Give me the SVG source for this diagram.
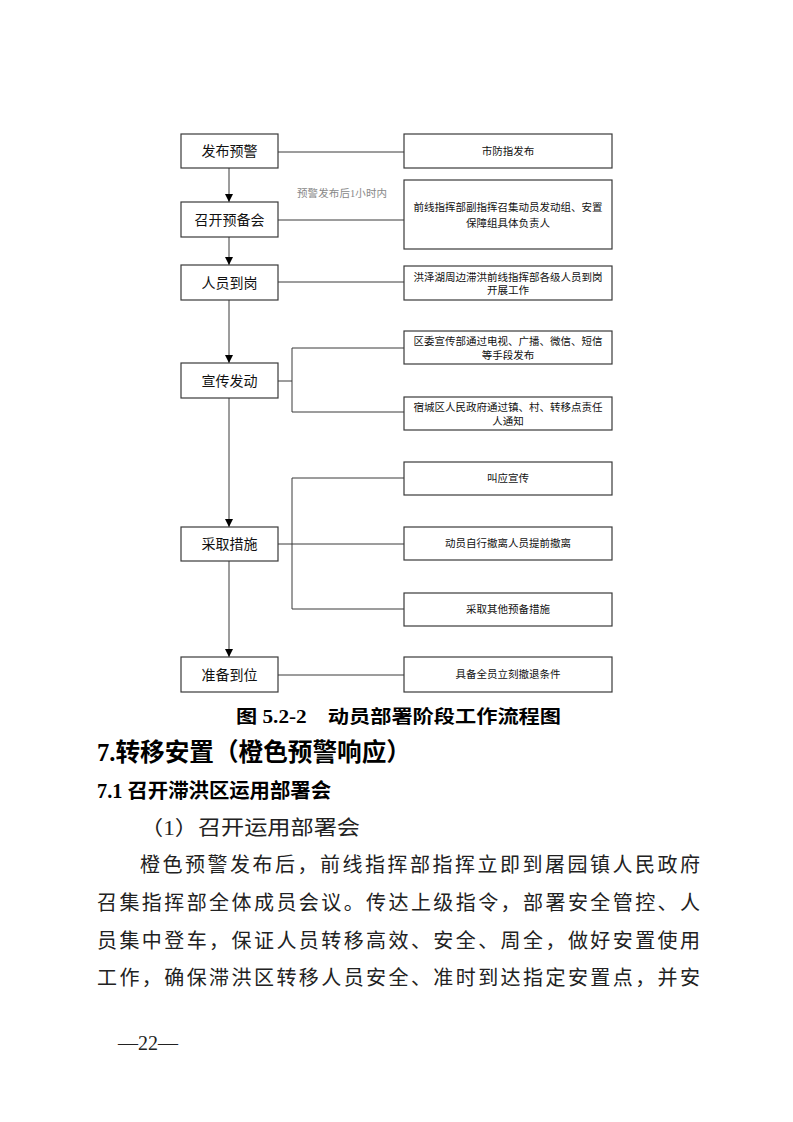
<svg xmlns="http://www.w3.org/2000/svg" width="793" height="1122" viewBox="0 0 793 1122">
<style>
.box{fill:#fff;stroke:#3a3a3a;stroke-width:1.2}
.ln{fill:none;stroke:#3a3a3a;stroke-width:1}
.lt{font-family:"Liberation Sans","Noto Sans CJK SC",sans-serif;font-size:14px;fill:#111;text-anchor:middle}
.rt{font-family:"Liberation Sans","Noto Sans CJK SC",sans-serif;font-size:10.5px;fill:#111;text-anchor:middle}
.note{font-family:"Liberation Serif","Noto Sans CJK SC",serif;font-size:10.5px;fill:#888}
.body{font-family:"Liberation Serif","Noto Sans CJK SC",serif;font-size:20px;fill:#222}
.hd{font-family:"Liberation Serif","Noto Sans CJK SC",serif;font-weight:bold;fill:#000}
</style>
<defs>
<marker id="arr" viewBox="0 0 10 10" refX="10" refY="5" markerWidth="8" markerHeight="8" markerUnits="userSpaceOnUse" orient="auto">
<path d="M0,0 L10,5 L0,10 z" fill="#000"/>
</marker>
</defs>
<rect width="793" height="1122" fill="#fff"/>

<g id="connectors">
<line class="ln" x1="229" y1="168" x2="229" y2="202" marker-end="url(#arr)"/>
<line class="ln" x1="229" y1="237" x2="229" y2="265" marker-end="url(#arr)"/>
<line class="ln" x1="229" y1="300" x2="229" y2="363" marker-end="url(#arr)"/>
<line class="ln" x1="229" y1="398" x2="229" y2="527" marker-end="url(#arr)"/>
<line class="ln" x1="229" y1="561" x2="229" y2="657" marker-end="url(#arr)"/>
<line class="ln" x1="278" y1="152" x2="404" y2="152"/>
<line class="ln" x1="278" y1="220" x2="404" y2="220"/>
<line class="ln" x1="278" y1="282" x2="404" y2="282"/>
<path class="ln" d="M278,381 H292 M404,348 H292 V412 H404"/>
<path class="ln" d="M278,544 H404 M404,478 H292 V609 H404"/>
<line class="ln" x1="278" y1="675" x2="404" y2="675"/>
<text class="note" x="297" y="197" textLength="90" lengthAdjust="spacing">预警发布后1小时内</text>
</g>

<g id="n1"><rect class="box" x="181" y="134" width="97" height="34"/><text class="lt" x="229.5" y="156">发布预警</text></g>
<g id="n2"><rect class="box" x="181" y="202" width="97" height="35"/><text class="lt" x="229.5" y="224.5">召开预备会</text></g>
<g id="n3"><rect class="box" x="181" y="265" width="97" height="35"/><text class="lt" x="229.5" y="287.5">人员到岗</text></g>
<g id="n4"><rect class="box" x="181" y="363" width="97" height="35"/><text class="lt" x="229.5" y="385.5">宣传发动</text></g>
<g id="n5"><rect class="box" x="181" y="527" width="97" height="34"/><text class="lt" x="229.5" y="549">采取措施</text></g>
<g id="n6"><rect class="box" x="181" y="657" width="97" height="35"/><text class="lt" x="229.5" y="679.5">准备到位</text></g>

<g id="r1"><rect class="box" x="404" y="134" width="208" height="34"/><text class="rt" x="508" y="155">市防指发布</text></g>
<g id="r2"><rect class="box" x="404" y="180" width="208" height="69"/><text class="rt" x="508" y="211">前线指挥部副指挥召集动员发动组、安置</text><text class="rt" x="508" y="227">保障组具体负责人</text></g>
<g id="r3"><rect class="box" x="404" y="266" width="208" height="34"/><text class="rt" x="508" y="281">洪泽湖周边滞洪前线指挥部各级人员到岗</text><text class="rt" x="508" y="294">开展工作</text></g>
<g id="r4"><rect class="box" x="404" y="331" width="208" height="33"/><text class="rt" x="508" y="345">区委宣传部通过电视、广播、微信、短信</text><text class="rt" x="508" y="359">等手段发布</text></g>
<g id="r5"><rect class="box" x="404" y="397" width="208" height="33"/><text class="rt" x="508" y="411">宿城区人民政府通过镇、村、转移点责任</text><text class="rt" x="508" y="425">人通知</text></g>
<g id="r6"><rect class="box" x="404" y="462" width="208" height="33"/><text class="rt" x="508" y="482">叫应宣传</text></g>
<g id="r7"><rect class="box" x="404" y="527" width="208" height="33"/><text class="rt" x="508" y="547">动员自行撤离人员提前撤离</text></g>
<g id="r8"><rect class="box" x="404" y="593" width="208" height="33"/><text class="rt" x="508" y="613">采取其他预备措施</text></g>
<g id="r9"><rect class="box" x="404" y="657" width="208" height="35"/><text class="rt" x="508" y="678">具备全员立刻撤退条件</text></g>

<text class="hd" x="236" y="723" font-size="18" textLength="325" lengthAdjust="spacingAndGlyphs">图 5.2-2　动员部署阶段工作流程图</text>
<text class="hd" x="97" y="761" font-size="25" textLength="314" lengthAdjust="spacingAndGlyphs">7.转移安置（橙色预警响应）</text>
<text class="hd" x="97" y="798" font-size="20" textLength="234" lengthAdjust="spacingAndGlyphs">7.1 召开滞洪区运用部署会</text>
<text class="body" x="140" y="835" textLength="220" lengthAdjust="spacingAndGlyphs">（1）召开运用部署会</text>
<text class="body" x="140" y="872" textLength="560" lengthAdjust="spacing">橙色预警发布后，前线指挥部指挥立即到屠园镇人民政府</text>
<text class="body" x="97" y="910" textLength="603" lengthAdjust="spacing">召集指挥部全体成员会议。传达上级指令，部署安全管控、人</text>
<text class="body" x="97" y="948" textLength="603" lengthAdjust="spacing">员集中登车，保证人员转移高效、安全、周全，做好安置使用</text>
<text class="body" x="97" y="985" textLength="603" lengthAdjust="spacing">工作，确保滞洪区转移人员安全、准时到达指定安置点，并安</text>
<text class="body" x="118" y="1050" font-size="20">—22—</text>
</svg>
